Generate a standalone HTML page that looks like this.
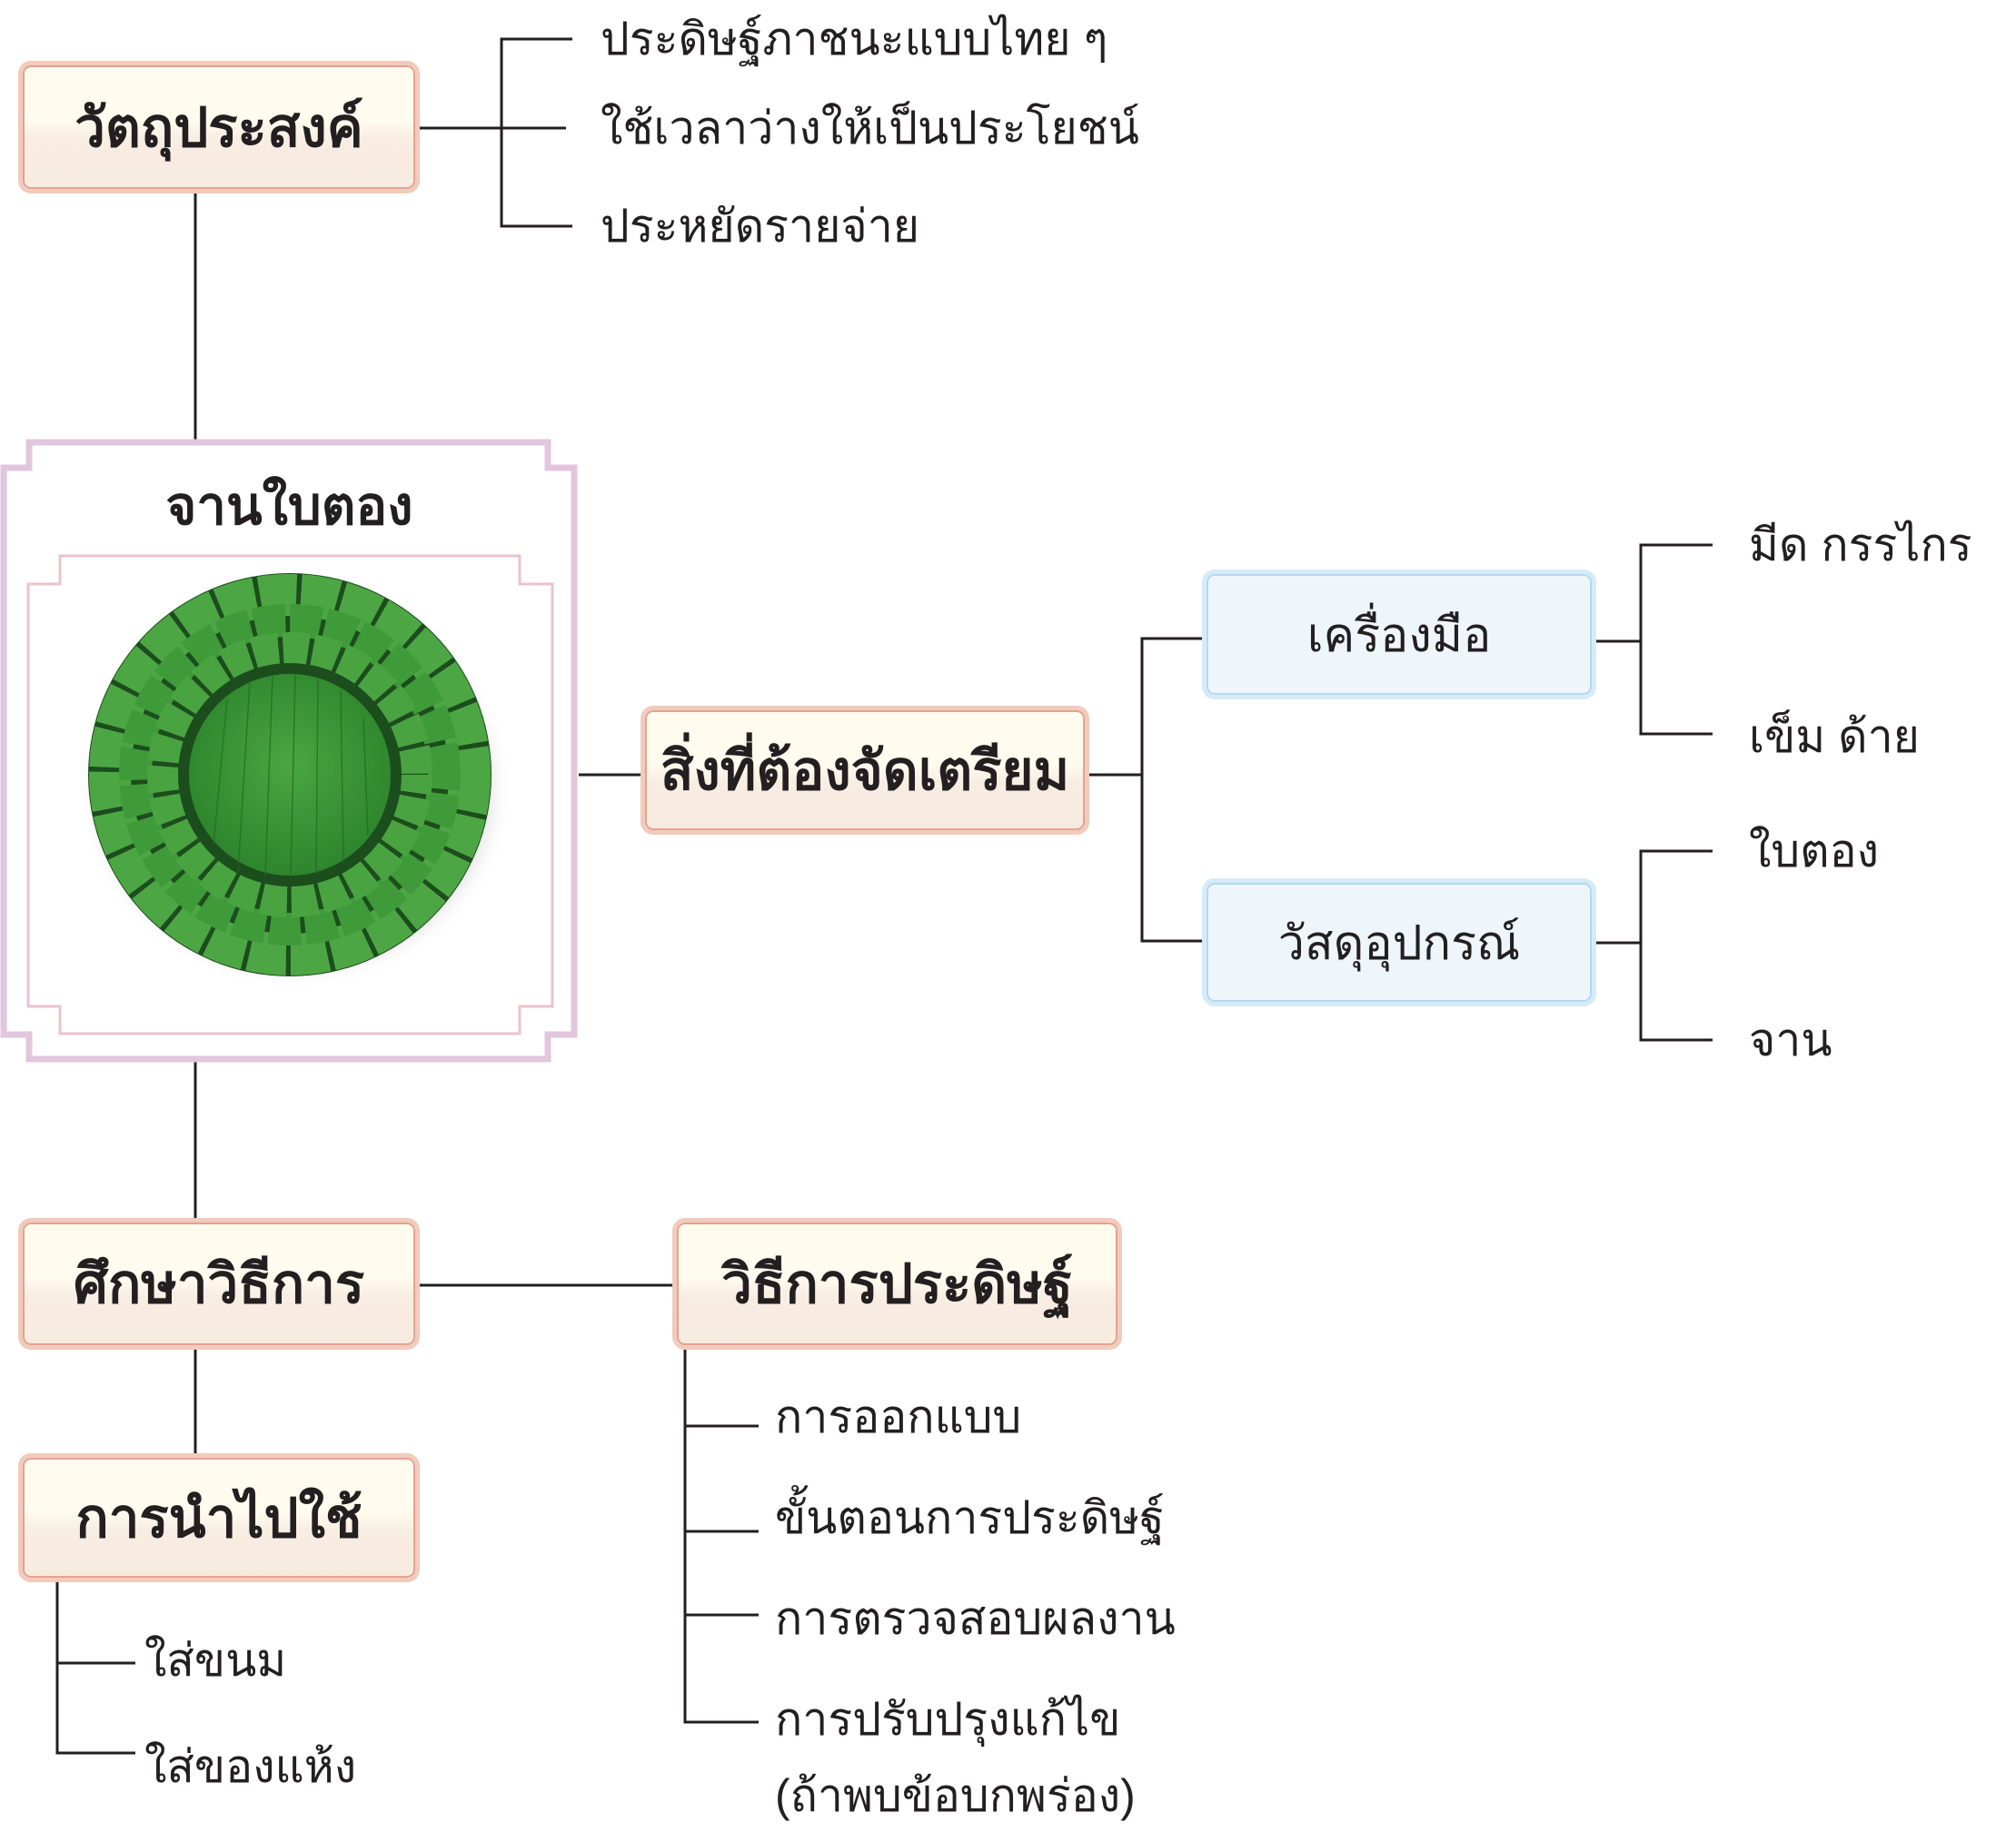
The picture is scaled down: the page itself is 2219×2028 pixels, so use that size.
<!DOCTYPE html>
<html><head><meta charset="utf-8">
<style>
html,body{margin:0;padding:0;background:#fff;}
body{width:2219px;height:2028px;position:relative;overflow:hidden;font-family:"Liberation Sans","Noto Sans CJK SC",sans-serif;color:#231f20;}
.box{position:absolute;box-sizing:border-box;border-radius:14px;border:5px solid #f1cbbb;box-shadow:inset 0 0 0 2px #e3a292;background:linear-gradient(to bottom,#fffbee 0%,#fffbee 45%,#f8ede2 60%,#f7ebe0 100%);display:flex;align-items:center;justify-content:center;font-weight:bold;font-size:60px;}
.blue{border-color:#d6ebf8;box-shadow:inset 0 0 0 2px #b5d8ef;background:#eff6fb;font-weight:normal;font-size:52px;}
.t{position:absolute;font-size:50px;line-height:1;white-space:nowrap;transform:translateY(-50%);}
svg{position:absolute;left:0;top:0;}
</style></head><body>
<svg width="2219" height="2028" viewBox="0 0 2219 2028">
<g stroke="#231f20" stroke-width="3" fill="none">
<path d="M462 141H623"/><path d="M630 43H552V249H630"/>
<path d="M215 213V484"/>
<path d="M637 853H705"/>
<path d="M1199 853H1257"/><path d="M1323 703H1257V1036H1323"/>
<path d="M1757 706H1806"/><path d="M1885 600H1806V808H1885"/>
<path d="M1757 1038H1806"/><path d="M1885 937H1806V1145H1885"/>
<path d="M215 1169V1341"/>
<path d="M462 1415H740"/>
<path d="M215 1486V1600"/>
<path d="M63 1742V1930H149"/><path d="M63 1831H149"/>
<path d="M754 1486V1896H835"/><path d="M754 1570H835"/><path d="M754 1686H835"/><path d="M754 1778H835"/>
</g>
<g fill="none">
<path d="M32 487H603V515H632V1139H603V1166H32V1139H4V515H32Z" stroke="#e2c6dd" stroke-width="7"/>
<path d="M66 612H572V643H608V1108H572V1138H66V1108H31V643H66Z" stroke="#ebc3cc" stroke-width="3"/>
</g>
<defs>
<radialGradient id="inner" cx="50%" cy="45%" r="55%"><stop offset="0" stop-color="#4aa642"/><stop offset="1" stop-color="#2e852d"/></radialGradient>
<radialGradient id="sh" cx="50%" cy="50%" r="50%"><stop offset="0.8" stop-color="#999" stop-opacity="0.6"/><stop offset="1" stop-color="#fff" stop-opacity="0"/></radialGradient>
</defs>
<g>
<ellipse cx="325" cy="868" rx="240" ry="222" fill="url(#sh)"/>
<circle cx="319" cy="853" r="222" fill="#1c4d1c"/>
<circle cx="319" cy="853" r="198" fill="none" stroke="#4da644" stroke-width="46" stroke-dasharray="40 5"/>
<circle cx="319" cy="853" r="170" fill="none" stroke="#3f9a3a" stroke-width="36" stroke-dasharray="34 5" stroke-dashoffset="18"/>
<circle cx="319" cy="853" r="140" fill="none" stroke="#4aa341" stroke-width="34" stroke-dasharray="28 5" stroke-dashoffset="8"/>
<circle cx="319" cy="853" r="116" fill="#1c4d1c"/>
<circle cx="319" cy="853" r="111" fill="url(#inner)"/>
<g stroke="#226a22" stroke-width="1.5" opacity="0.7">
<path d="M250 770L235 930M275 750L262 960M300 742L292 965M325 742L320 965M350 748L348 962M375 760L378 950M400 790L405 920"/>
</g>
</g>
</svg>
<div class="t" style="left:0;width:637px;text-align:center;top:558px;font-weight:bold;font-size:58px;">จานใบตอง</div>
<div class="box" style="left:20px;top:67px;width:442px;height:146px;">วัตถุประสงค์</div>
<div class="t" style="left:661px;top:43px;">ประดิษฐ์ภาชนะแบบไทย ๆ</div>
<div class="t" style="left:661px;top:141px;">ใช้เวลาว่างให้เป็นประโยชน์</div>
<div class="t" style="left:661px;top:249px;">ประหยัดรายจ่าย</div>
<div class="box" style="left:705px;top:777px;width:494px;height:142px;">สิ่งที่ต้องจัดเตรียม</div>
<div class="box blue" style="left:1323px;top:627px;width:434px;height:143px;">เครื่องมือ</div>
<div class="box blue" style="left:1323px;top:967px;width:434px;height:141px;">วัสดุอุปกรณ์</div>
<div class="t" style="left:1925px;top:600px;">มีด กรรไกร</div>
<div class="t" style="left:1925px;top:811px;">เข็ม ด้าย</div>
<div class="t" style="left:1925px;top:937px;">ใบตอง</div>
<div class="t" style="left:1925px;top:1145px;">จาน</div>
<div class="box" style="left:20px;top:1341px;width:442px;height:145px;">ศึกษาวิธีการ</div>
<div class="box" style="left:740px;top:1341px;width:495px;height:145px;">วิธีการประดิษฐ์</div>
<div class="box" style="left:20px;top:1600px;width:442px;height:142px;">การนำไปใช้</div>
<div class="t" style="left:159px;top:1828px;">ใส่ขนม</div>
<div class="t" style="left:159px;top:1945px;">ใส่ของแห้ง</div>
<div class="t" style="left:853px;top:1560px;">การออกแบบ</div>
<div class="t" style="left:853px;top:1671px;">ขั้นตอนการประดิษฐ์</div>
<div class="t" style="left:853px;top:1782px;">การตรวจสอบผลงาน</div>
<div class="t" style="left:853px;top:1893px;">การปรับปรุงแก้ไข</div>
<div class="t" style="left:853px;top:1977px;">(ถ้าพบข้อบกพร่อง)</div>
</body></html>
